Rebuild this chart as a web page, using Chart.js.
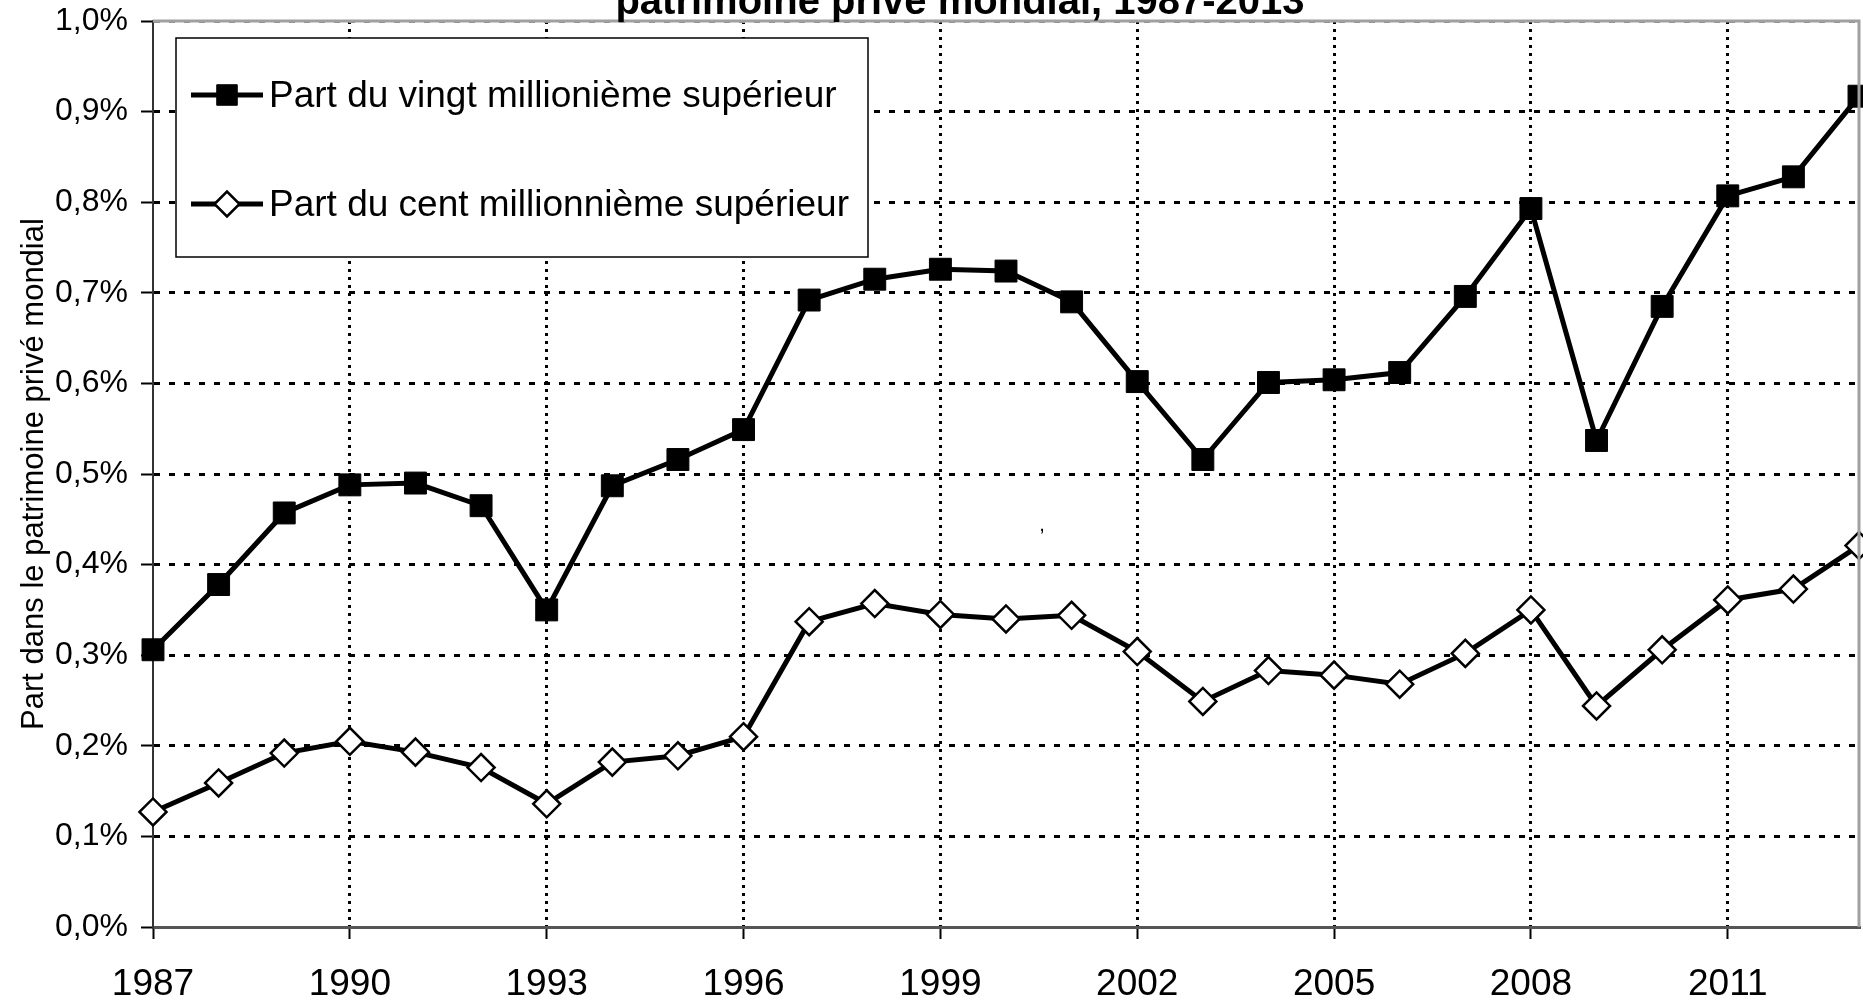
<!DOCTYPE html>
<html>
<head>
<meta charset="utf-8">
<script src="https://cdn.jsdelivr.net/npm/chart.js@4/dist/chart.umd.min.js"></script>
<style>
  body { margin: 0; background: #fff; }
  canvas { display: block; }
</style>
</head>
<body>
<canvas id="graph" width="1863" height="1001"></canvas>
<script>
// values, in % of world private wealth
var years = [1987, 1988, 1989, 1990, 1991, 1992, 1993, 1994, 1995, 1996, 1997, 1998, 1999, 2000,
             2001, 2002, 2003, 2004, 2005, 2006, 2007, 2008, 2009, 2010, 2011, 2012, 2013];
var vingtMillioniemes = [0.306, 0.378, 0.457, 0.488, 0.490, 0.465, 0.350, 0.487, 0.516, 0.549, 0.692, 0.715, 0.726, 0.724,
                         0.690, 0.602, 0.516, 0.601, 0.604, 0.612, 0.696, 0.793, 0.537, 0.685, 0.807, 0.828, 0.917];
var centMillioniemes = [0.127, 0.159, 0.192, 0.205, 0.193, 0.176, 0.136, 0.182, 0.189, 0.210, 0.337, 0.357, 0.345, 0.340,
                        0.344, 0.304, 0.249, 0.283, 0.278, 0.268, 0.302, 0.350, 0.244, 0.306, 0.361, 0.373, 0.421];
var seriesLabels = ['Part du vingt millionième supérieur', 'Part du cent millionnième supérieur'];
var titleText = 'patrimoine privé mondial, 1987-2013';
var yTitle = 'Part dans le patrimoine privé mondial';

Chart.defaults.font.family = "'Liberation Sans', Arial, sans-serif";
Chart.defaults.color = '#000';

var isMajor = i => i % 3 === 0 && i < years.length - 1;

// title (cut at the top), frame, legend box
var extras = {
    id: 'extras',
    afterDraw(chart) {
        const ctx = chart.ctx;
        const area = chart.chartArea;
        ctx.save();

        // gray frame top and right
        ctx.strokeStyle = '#a0a0a0';
        ctx.lineWidth = 3;
        ctx.beginPath();
        ctx.moveTo(area.left, area.top);
        ctx.lineTo(area.right, area.top);
        ctx.lineTo(area.right, area.bottom);
        ctx.stroke();

        ctx.font = 'bold 40px "Liberation Sans", Arial';
        ctx.textAlign = 'center';
        ctx.textBaseline = 'alphabetic';
        ctx.fillStyle = '#000';
        ctx.fillText(titleText, 960, 14);

        ctx.font = '20px "Liberation Sans", Arial';
        ctx.fillText(',', 1042, 531);

        // legend
        const box = { x: 176, y: 38, w: 692, h: 219 };
        ctx.fillStyle = '#fff';
        ctx.fillRect(box.x, box.y, box.w, box.h);
        ctx.strokeStyle = '#000';
        ctx.lineWidth = 1.5;
        ctx.strokeRect(box.x, box.y, box.w, box.h);

        const rows = [95, 204];
        chart.data.datasets.forEach((ds, i) => {
            const y = rows[i];
            ctx.strokeStyle = ds.borderColor;
            ctx.lineWidth = ds.borderWidth;
            ctx.beginPath();
            ctx.moveTo(191, y);
            ctx.lineTo(263, y);
            ctx.stroke();
            ctx.fillStyle = ds.pointBackgroundColor;
            ctx.strokeStyle = ds.pointBorderColor;
            ctx.lineWidth = ds.pointBorderWidth;
            Chart.helpers.drawPoint(ctx, {
                pointStyle: ds.pointStyle,
                radius: ds.pointRadius - 1,
                borderWidth: ds.pointBorderWidth,
                rotation: 0
            }, 227, y);
            ctx.fillStyle = '#000';
            ctx.font = '37px "Liberation Sans", Arial';
            ctx.textAlign = 'left';
            ctx.textBaseline = 'middle';
            ctx.fillText(ds.label, 269, y + 2);
        });
        ctx.restore();
    }
};

new Chart(document.getElementById('graph'), {
    type: 'line',
    data: {
        labels: years,
        datasets: [
            {
                label: seriesLabels[0],
                data: vingtMillioniemes,
                borderColor: '#000',
                borderWidth: 5,
                pointStyle: 'rect',
                pointRadius: 15.5,
                pointBackgroundColor: '#000',
                pointBorderColor: '#000',
                pointBorderWidth: 1,
                tension: 0,
                clip: false
            },
            {
                label: seriesLabels[1],
                data: centMillioniemes,
                borderColor: '#000',
                borderWidth: 5,
                pointStyle: 'rectRot',
                pointRadius: 13.5,
                pointBackgroundColor: '#fff',
                pointBorderColor: '#000',
                pointBorderWidth: 2.5,
                tension: 0,
                clip: false
            }
        ]
    },
    options: {
        responsive: false,
        animation: false,
        layout: { autoPadding: false, padding: { top: 21, right: 4, left: 0, bottom: 0 } },
        plugins: {
            legend: { display: false },
            tooltip: { enabled: false },
            title: { display: false }
        },
        scales: {
            x: {
                type: 'category',
                offset: false,
                afterFit: s => { s.height = 74; s.paddingLeft = 0; s.paddingRight = 0; },
                grid: {
                    color: c => (c.index > 0 && isMajor(c.index)) ? '#000' : 'rgba(0,0,0,0)',
                    lineWidth: 3,
                    tickColor: c => isMajor(c.index) ? '#000' : 'rgba(0,0,0,0)',
                    tickLength: 12,
                    tickWidth: 2
                },
                border: { display: true, color: '#555', width: 3, dash: [3, 5] },
                ticks: {
                    autoSkip: false,
                    maxRotation: 0,
                    padding: 24,
                    font: { size: 37 },
                    callback: (v, i) => isMajor(i) ? String(years[i]) : ''
                }
            },
            y: {
                min: 0,
                max: 1,
                afterFit: s => { s.width = 153; s.paddingTop = 0; s.paddingBottom = 0; },
                grid: {
                    color: c => c.index === 0 ? 'rgba(0,0,0,0)' : (c.index === 10 ? '#888' : '#000'),
                    lineWidth: 3,
                    tickColor: '#000',
                    tickLength: 12,
                    tickWidth: 2
                },
                border: { display: true, color: '#333', width: 2, dash: [6, 9] },
                ticks: {
                    stepSize: 0.1,
                    padding: 13,
                    font: { size: 32 },
                    callback: v => v.toFixed(1).replace('.', ',') + '%'
                },
                title: {
                    display: true,
                    text: yTitle,
                    font: { size: 31 },
                    padding: { top: 16, bottom: 0 }
                }
            }
        }
    },
    plugins: [extras]
});
</script>
</body>
</html>
